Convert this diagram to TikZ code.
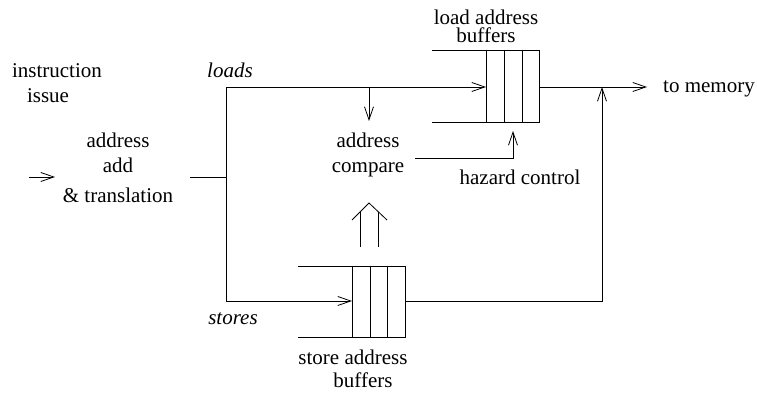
\documentclass[tikz,border=0pt]{standalone}
\usepackage{fontspec}
\setmainfont{Liberation Serif}
\usetikzlibrary{arrows.meta}
\begin{document}
\begin{tikzpicture}[x=0.5pt,y=-0.5pt,
        font=\fontsize{10.5}{12.5}\selectfont,
        tip/.style={-{Straight Barb[length=6.5pt,width=4.5pt]}},
        lbl/.style={anchor=base,inner sep=0pt,align=center}]
            \useasboundingbox (0,0) rectangle (757,394);

            % labels (base = baseline of the last line)
            \node[lbl] (instr) at (57,78) {instruction};
            \node[lbl] (issue) at (48,103) {issue};
            \node[lbl] (aat) at (118,203) {address\\add\\[2.5pt]\& translation};
            \node[lbl] (cmp) at (368,173) {address\\compare};
            \node[lbl] (loads) at (230,78) {\textit{loads}};
            \node[lbl] (stores) at (233,325) {\textit{stores}};
            \node[lbl] (ldbuf) at (486,43) {load address\\[-3.5pt]buffers};
            \node[lbl] (stbuf) at (353,388) {store address\\[-1pt]\hspace*{10pt}buffers};
            \node[lbl] (hazard) at (520,185) {hazard control};
            \node[lbl] (tomem) at (709,93) {to memory};

            % load address buffers
            \draw (432,50) -- (539,50) -- (539,122) -- (432,122);
            \foreach \x in {486,504,522} \draw (\x,50) -- (\x,122);
            % store address buffers
            \draw (298,266) -- (405,266) -- (405,337) -- (298,337);
            \foreach \x in {352,370,387} \draw (\x,266) -- (\x,337);

            \coordinate (issuein) at (29,177);
            \coordinate (aatin) at (55,177);
            \coordinate (aatout) at (190,177);
            \coordinate (fork) at (226,177);
            \coordinate (lbin) at (486,87);
            \coordinate (lbout) at (539,87);
            \coordinate (lbhaz) at (513,131);
            \coordinate (sbin) at (352,301);
            \coordinate (sbout) at (405,301);
            \coordinate (ldtap) at (369,87);
            \coordinate (cmpin) at (369,121);
            \coordinate (cmpout) at (415,158);
            \coordinate (merge) at (602,87);
            \coordinate (mem) at (647,87);

            \draw[tip] (issuein) -- (aatin);
            \draw (aatout) -- (fork);
            \draw[tip] (fork) |- (lbin);
            \draw[tip] (fork) |- (sbin);
            \draw[tip] (ldtap) -- (cmpin);
            \draw[tip] (cmpout) -| (lbhaz);
            \draw[tip] (lbout) -- (mem);
            \draw[tip] (sbout) -| (merge);

            % double arrow from the store buffers
            \draw (360,247) -- (360,212);
            \draw (378,247) -- (378,212);
            \draw (352,220) -- (369,203) -- (387,220);
        \end{tikzpicture}
\end{document}
